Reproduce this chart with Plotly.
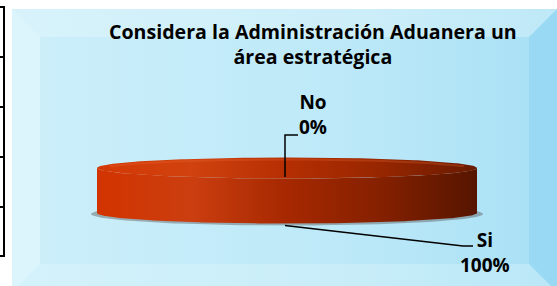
import numpy as np
import plotly.graph_objects as go

# ---- data ----
categories = ["Si", "No"]
values = [100, 0]
title_lines = ["Considera la Administración Aduanera un", "área estratégica"]

W, H = 557, 286
FONT = "Open Sans"

# ---- pie layout parameters (geometry, not data) ----
CX, CY, RX, RY, DEPTH = 287.0, 168.0, 190.0, 10.5, 45.0

fig = go.Figure()

def poly(xs, ys, **kw):
    fig.add_trace(go.Scatter(x=list(xs), y=list(ys), mode="lines", fill="toself",
                             line=dict(width=0), hoverinfo="skip", showlegend=False, **kw))

# ---- background panel with bevel ----
L, T, R, B, bw = 12, 9, 557, 292, 28
poly([L, R, R, L, L], [T, T, B, B, T],
     fillgradient=dict(type="horizontal",
                       colorscale=[[0, "#CDEFFA"], [0.6, "#BDE9F8"], [1, "#A8E0F5"]]))
poly([L, R, R - bw, L + bw, L], [T, T, T + bw, T + bw, T], fillcolor="rgba(235,250,253,0.35)")
poly([L, L + bw, L + bw, L, L], [T, T + bw, B - bw, B, T], fillcolor="rgba(240,252,254,0.45)")
poly([R, R, R - bw, R - bw, R], [T, B, B - bw, T + bw, T], fillcolor="rgba(120,200,238,0.3)")
poly([L, R, R - bw, L + bw, L], [B, B, B - bw, B - bw, B], fillcolor="rgba(230,248,253,0.3)")

# ---- left table fragment ----
for yy in [7, 57, 107, 157, 207, 256]:
    fig.add_shape(type="line", x0=0, x1=5, y0=yy, y1=yy, line=dict(color="black", width=2))
fig.add_shape(type="line", x0=4, x1=4, y0=7, y1=256, line=dict(color="black", width=2))

# ---- 3D pie computed from values ----
total = sum(values)
fracs = [v / total for v in values]
starts = np.cumsum([0] + fracs[:-1])

def pt(theta, cy):
    # theta measured clockwise from 12 o'clock, in radians; screen y points down
    return CX + RX * np.sin(theta), cy - RY * np.cos(theta)

# shadow
th = np.linspace(0, 2 * np.pi, 200)
poly(CX + (RX + 6) * np.sin(th), CY + DEPTH + 1 - (RY + 1) * np.cos(th), fillcolor="rgba(90,90,90,0.45)")

side_scale = [[0, "#D23400"], [0.25, "#CB3E10"], [0.5, "#A62800"], [0.75, "#842000"], [1, "#561500"]]
top_scale = [[0, "#D43804"], [0.25, "#D0420F"], [0.5, "#B52E02"], [0.75, "#962600"], [1, "#681A00"]]

for f, s in zip(fracs, starts):
    if f <= 0:
        continue
    a0, a1 = 2 * np.pi * s, 2 * np.pi * (s + f)
    lo, hi = max(a0, np.pi / 2), min(a1, 3 * np.pi / 2)
    if hi > lo:
        t = np.linspace(lo, hi, 200)
        xt, yt = pt(t, CY)
        xb, yb = pt(t[::-1], CY + DEPTH)
        poly(np.r_[xt, xb, xt[:1]], np.r_[yt, yb, yt[:1]],
             fillgradient=dict(type="horizontal", colorscale=side_scale))
    t = np.linspace(a0, a1, 300)
    xt, yt = pt(t, CY)
    if f < 1:
        xt, yt = np.r_[CX, xt, CX], np.r_[CY, yt, CY]
    poly(xt, yt, fillgradient=dict(type="horizontal", colorscale=top_scale))
t = np.linspace(-1.2, 1.2, 100)
hx, hy = pt(t, CY + 2)
fig.add_trace(go.Scatter(x=hx, y=hy, mode="lines", line=dict(color="rgba(240,110,60,0.25)", width=2),
                         hoverinfo="skip", showlegend=False))

# ---- labels with leader lines ----
label_pos = {"Si": (485, 252), "No": (313, 114)}
for cat, f, s in zip(categories, fracs, starts):
    mid = 2 * np.pi * (s + f / 2)
    lx, ly = label_pos[cat]
    if cat == "Si":
        ax, ay = pt(mid, CY + DEPTH)
        xs, ys = [ax - 2, 463, 473], [ay + 2, 246, 246]
    else:
        ax, ay = CX - 2, CY + 9
        xs, ys = [ax, ax, 298], [ay, 135, 135]
    fig.add_trace(go.Scatter(x=xs, y=ys, mode="lines", line=dict(color="black", width=1.5),
                             hoverinfo="skip", showlegend=False))
    fig.add_annotation(x=lx, y=ly, xref="x", yref="y", showarrow=False,
                       text=f"<b>{cat}</b><br><b>{round(f * 100)}%</b>",
                       font=dict(family=FONT, size=19, color="black"),
                       align="center")

fig.add_annotation(x=313, y=44, xref="x", yref="y", showarrow=False,
                   text="<br>".join(f"<b>{s}</b>" for s in title_lines),
                   font=dict(family=FONT, size=19.6, color="black"), align="center")

fig.update_layout(
    width=W, height=H, margin=dict(l=0, r=0, t=0, b=0),
    paper_bgcolor="white", plot_bgcolor="white",
    xaxis=dict(range=[0, W], visible=False, fixedrange=True),
    yaxis=dict(range=[H, 0], visible=False, fixedrange=True),
    showlegend=False,
)
fig.write_html("out.html", config={"displayModeBar": False},
               post_script="document.body.style.margin='0';document.body.style.overflow='hidden';")
